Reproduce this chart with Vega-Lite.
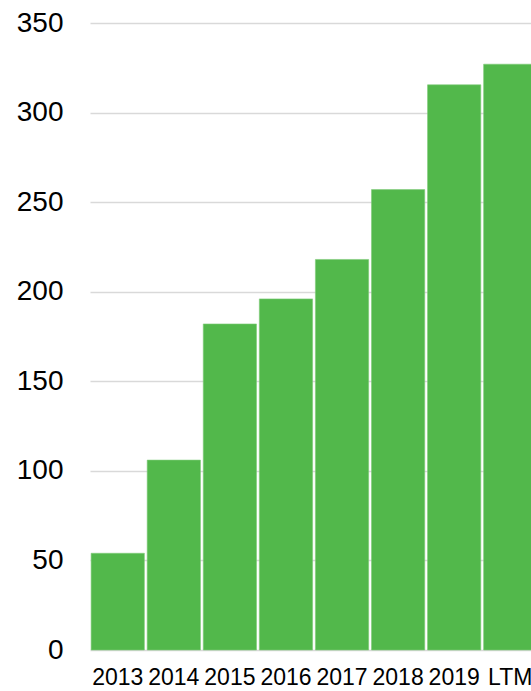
{
  "$schema": "https://vega.github.io/schema/vega-lite/v6.json",
  "autosize": {"type": "none"},
  "padding": {"left": 90, "top": 23, "right": 0, "bottom": 41},
  "width": 448,
  "height": 627,
  "background": "white",
  "config": {
    "view": {"stroke": null},
    "font": "Liberation Sans"
  },
  "data": {
    "values": [
      {"year": "2013", "value": 54},
      {"year": "2014", "value": 106},
      {"year": "2015", "value": 182},
      {"year": "2016", "value": 196},
      {"year": "2017", "value": 218},
      {"year": "2018", "value": 257},
      {"year": "2019", "value": 315.5},
      {"year": "LTM", "value": 327}
    ]
  },
  "mark": {"type": "bar", "color": "#52b84b", "stroke": "#7fcb78", "strokeWidth": 0.6},
  "encoding": {
    "x": {
      "field": "year",
      "type": "nominal",
      "sort": null,
      "scale": {"paddingInner": 0.05, "paddingOuter": 0.02},
      "axis": {
        "title": null,
        "labelAngle": 0,
        "labelFontSize": 23,
        "labelColor": "#000000",
        "labelFont": "Liberation Sans",
        "labelPadding": 16,
        "labelBaseline": "top",
        "labelOverlap": false,
        "ticks": false,
        "tickSize": 0,
        "domain": false,
        "grid": false
      }
    },
    "y": {
      "field": "value",
      "type": "quantitative",
      "scale": {"domain": [0, 350], "nice": false, "zero": true},
      "axis": {
        "title": null,
        "values": [0, 50, 100, 150, 200, 250, 300, 350],
        "labelFontSize": 28,
        "labelColor": "#000000",
        "labelFont": "Liberation Sans",
        "labelPadding": 27,
        "ticks": false,
        "tickSize": 0,
        "domain": false,
        "grid": true,
        "gridColor": "#d9d9d9",
        "gridWidth": 1.5
      }
    }
  }
}
